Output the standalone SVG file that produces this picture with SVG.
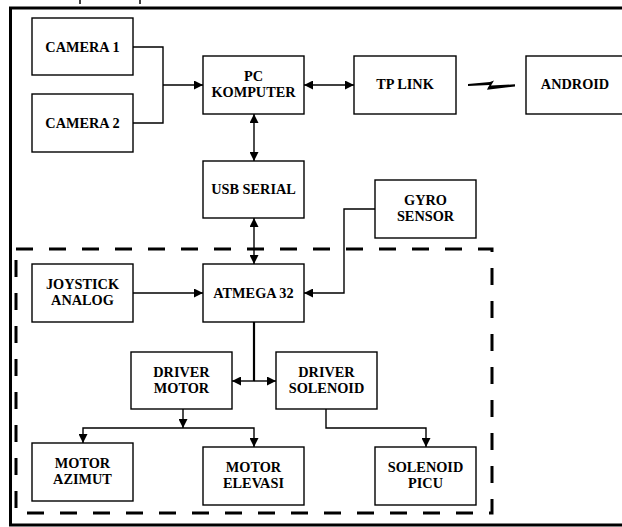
<svg xmlns="http://www.w3.org/2000/svg" width="622" height="527" viewBox="0 0 622 527">
<defs>
<style>
.box{fill:#fff;stroke:#000;stroke-width:1.4}
.t{font-family:"Liberation Serif","Times New Roman",serif;font-weight:bold;font-size:14.3px;text-anchor:middle;fill:#000}
.c{fill:none;stroke:#000;stroke-width:1.4}
.ct{fill:none;stroke:#000;stroke-width:2.2}
</style>
<marker id="ah" viewBox="0 0 10 10" refX="10" refY="5" markerWidth="10" markerHeight="9" markerUnits="userSpaceOnUse" orient="auto-start-reverse">
<path d="M0,0 L10,5 L0,10 z" fill="#000"/>
</marker>
</defs>
<rect width="622" height="527" fill="#fff"/>
<g id="frame">
<path d="M622,8 H10.5 V525 H622" fill="none" stroke="#000" stroke-width="3"/>
<line x1="80" y1="0" x2="80" y2="4" stroke="#000" stroke-width="1.5"/>
<line x1="140" y1="0" x2="140" y2="4" stroke="#000" stroke-width="1.5"/>
</g>
<g id="dashed-region">
<rect x="16" y="249" width="476" height="264" fill="none" stroke="#000" stroke-width="3" stroke-dasharray="17 16"/>
</g>
<g id="connectors">
<path class="c" d="M133,47 H163 V123 H133"/>
<path class="c" d="M163,85 H203" marker-end="url(#ah)"/>
<path class="c" d="M304,85 H354" marker-start="url(#ah)" marker-end="url(#ah)"/>
<path class="c" d="M254,114 V161" marker-start="url(#ah)" marker-end="url(#ah)"/>
<path class="c" d="M254,218 V264" marker-start="url(#ah)" marker-end="url(#ah)"/>
<path class="c" d="M133,293 H203" marker-end="url(#ah)"/>
<path class="c" d="M375,209 H344 V293 H304" marker-end="url(#ah)"/>
<path class="ct" d="M254,322 V381"/>
<path class="c" d="M254,381 H232" marker-end="url(#ah)"/>
<path class="c" d="M254,381 H276" marker-end="url(#ah)"/>
<path class="c" d="M183,409 V428" marker-end="url(#ah)"/>
<path class="c" d="M83,443 V428 H254 V447" marker-start="url(#ah)" marker-end="url(#ah)"/>
<path class="c" d="M326,409 V428 H426 V447" marker-end="url(#ah)"/>
<polygon points="468,84 490,82 494,80.5 491,85.5 515,84.3 515,86.5 487,89.8 488,87.5 489.5,85 468,86" fill="#000"/>
</g>
<g id="camera1"><rect class="box" x="32" y="18" width="101" height="57"/><text class="t" x="82.5" y="52">CAMERA 1</text></g>
<g id="camera2"><rect class="box" x="32" y="94" width="101" height="58"/><text class="t" x="82.5" y="128">CAMERA 2</text></g>
<g id="pc"><rect class="box" x="203" y="56" width="101" height="58"/><text class="t" x="253.5" y="81">PC</text><text class="t" x="253.5" y="97">KOMPUTER</text></g>
<g id="tplink"><rect class="box" x="354" y="56" width="102" height="58"/><text class="t" x="405" y="89">TP LINK</text></g>
<g id="android"><rect class="box" x="526" y="56" width="100" height="58"/><text class="t" x="575" y="89">ANDROID</text></g>
<g id="usb"><rect class="box" x="203" y="161" width="101" height="57"/><text class="t" x="253.5" y="194">USB SERIAL</text></g>
<g id="gyro"><rect class="box" x="375" y="180" width="101" height="58"/><text class="t" x="425.5" y="205">GYRO</text><text class="t" x="425.5" y="221">SENSOR</text></g>
<g id="joystick"><rect class="box" x="32" y="264" width="101" height="58"/><text class="t" x="82.5" y="289">JOYSTICK</text><text class="t" x="82.5" y="305">ANALOG</text></g>
<g id="atmega"><rect class="box" x="203" y="264" width="101" height="58"/><text class="t" x="253.5" y="298">ATMEGA 32</text></g>
<g id="driver-motor"><rect class="box" x="131" y="352" width="101" height="57"/><text class="t" x="181.5" y="377">DRIVER</text><text class="t" x="181.5" y="393">MOTOR</text></g>
<g id="driver-solenoid"><rect class="box" x="276" y="352" width="101" height="57"/><text class="t" x="326.5" y="377">DRIVER</text><text class="t" x="326.5" y="393">SOLENOID</text></g>
<g id="motor-azimut"><rect class="box" x="32" y="443" width="101" height="58"/><text class="t" x="82.5" y="468">MOTOR</text><text class="t" x="82.5" y="484">AZIMUT</text></g>
<g id="motor-elevasi"><rect class="box" x="203" y="447" width="101" height="58"/><text class="t" x="253.5" y="472">MOTOR</text><text class="t" x="253.5" y="488">ELEVASI</text></g>
<g id="solenoid-picu"><rect class="box" x="375" y="447" width="101" height="58"/><text class="t" x="425.5" y="472">SOLENOID</text><text class="t" x="425.5" y="488">PICU</text></g>
</svg>
